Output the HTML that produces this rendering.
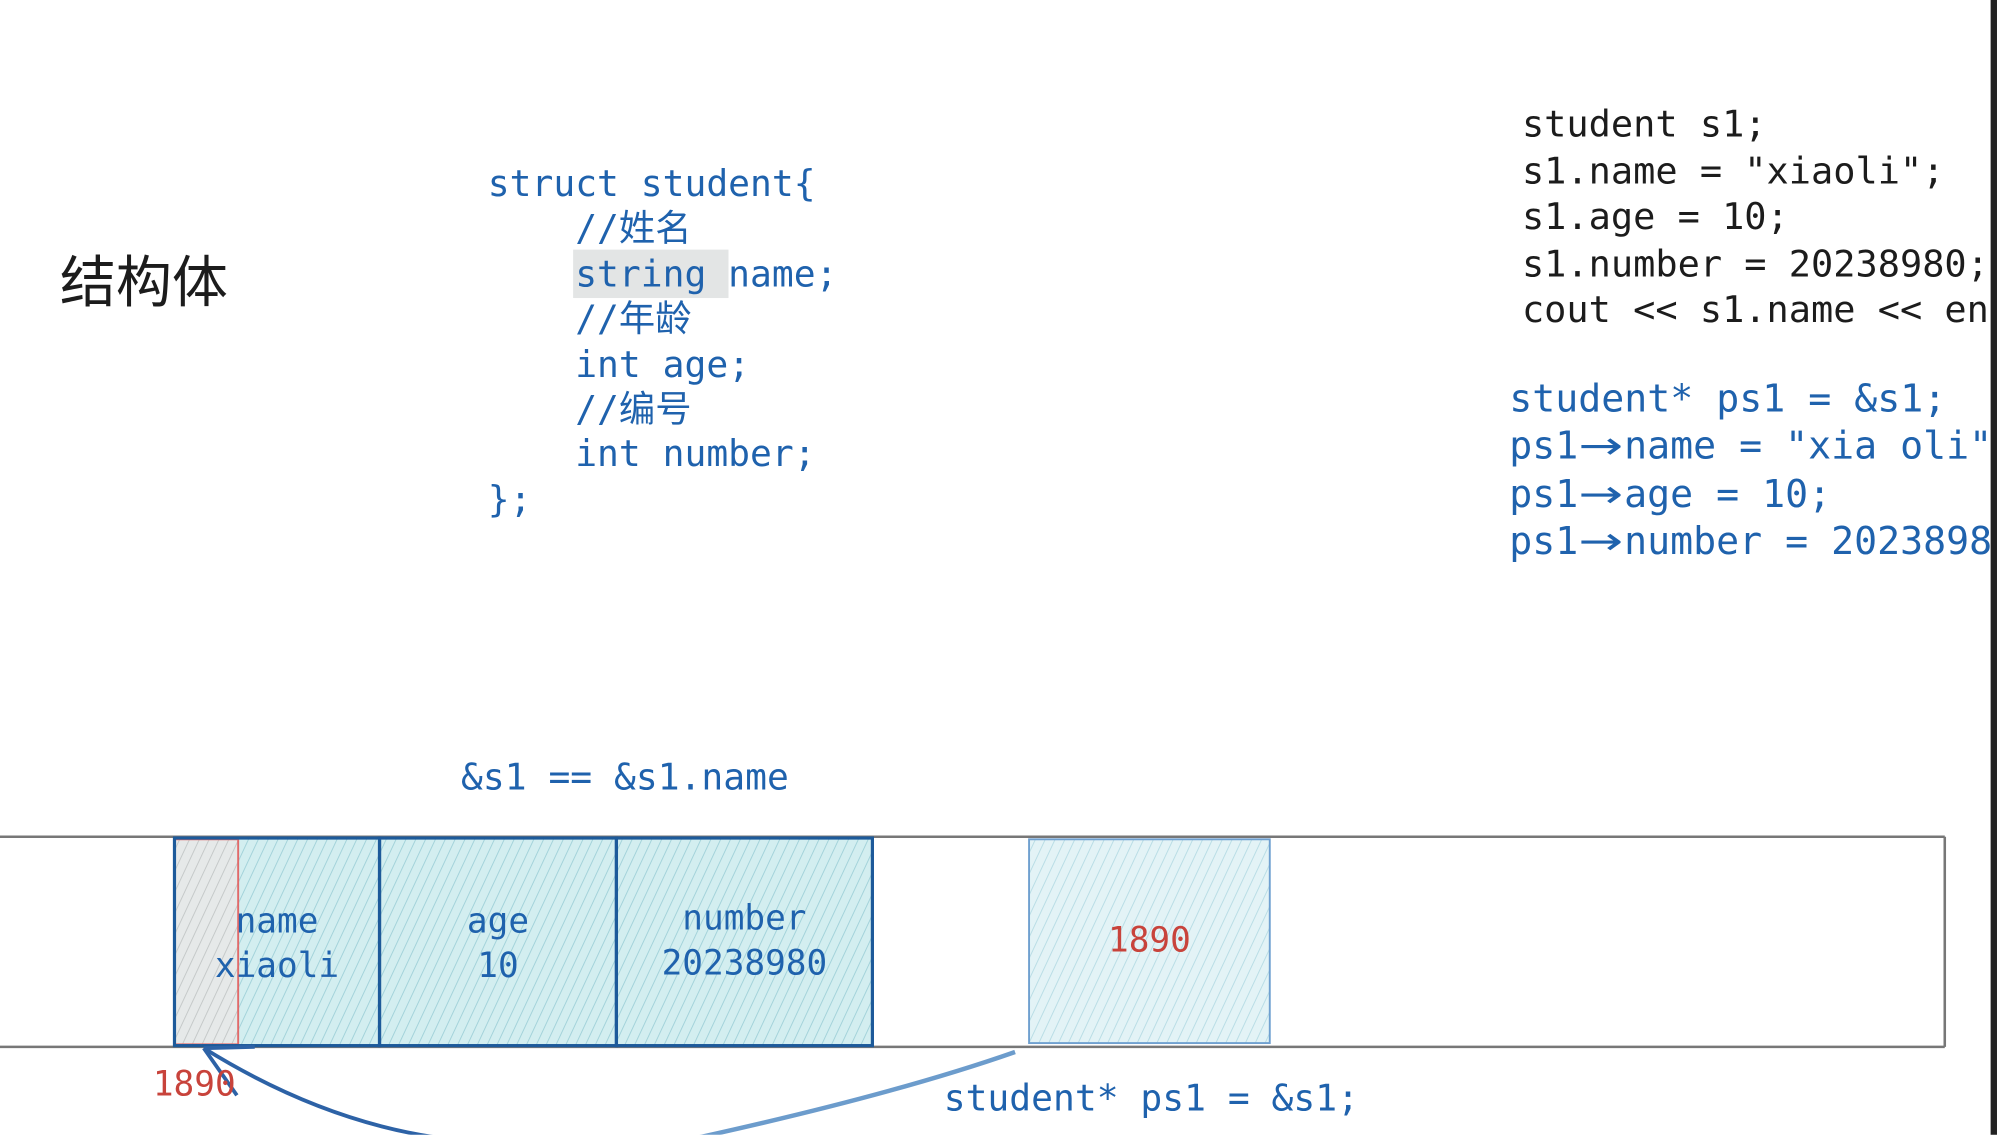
<!DOCTYPE html>
<html><head><meta charset="utf-8"><style>
html,body{margin:0;padding:0;background:#fff;width:1997px;height:1135px;overflow:hidden}
#s{position:absolute;left:0;top:0;width:1568px;height:891px;transform:scale(1.27359);transform-origin:0 0}
.t{position:absolute;white-space:pre;font-family:"DejaVu Sans Mono","Noto Sans CJK SC",monospace;line-height:36px}
.b{color:#1f62ad}.k{color:#1c1c1c}.r{color:#c8433b}
.ar{display:inline-block;width:1.2em;text-align:center;font-family:"DejaVu Sans",sans-serif;transform:scaleX(1.4)}
</style></head><body><div id="s">
<div style="position:absolute;left:1563px;top:0;width:5px;height:891px;background:#222"></div>
<div class="t k" style="left:47px;top:190px;font-family:'Noto Sans CJK SC',sans-serif;font-size:44px;line-height:56px">结构体</div>
<div style="position:absolute;left:450px;top:196px;width:122px;height:38px;background:#e3e5e5"></div>
<div class="t b" style="left:383px;top:127px;font-size:28.5px;line-height:35.4px">struct student{
    //姓名
    string name;
    //年龄
    int age;
    //编号
    int number;
};</div>
<div class="t k" style="left:1195px;top:79px;font-size:29px;line-height:36.5px">student s1;
s1.name = "xiaoli";
s1.age = 10;
s1.number = 20238980;
cout &lt;&lt; s1.name &lt;&lt; en</div>
<div class="t b" style="left:1185px;top:295px;font-size:30px;line-height:37.3px">student* ps1 = &amp;s1;
ps1<span class="ar">→</span>name = "xia oli"
ps1<span class="ar">→</span>age = 10;
ps1<span class="ar">→</span>number = 2023898</div>
<div class="t b" style="left:362px;top:593px;font-size:28.5px">&amp;s1 == &amp;s1.name</div>
<svg style="position:absolute;left:0;top:0" width="1568" height="891">
<defs>
<pattern id="h" width="7" height="7" patternUnits="userSpaceOnUse" patternTransform="rotate(25)">
<rect width="7" height="7" fill="#d3eef0"/><line x1="0" y1="0" x2="0" y2="7" stroke="#9fd0d8" stroke-width="1.4"/></pattern>
<pattern id="g" width="7" height="7" patternUnits="userSpaceOnUse" patternTransform="rotate(25)">
<rect width="7" height="7" fill="#e6e9e9"/><line x1="0" y1="0" x2="0" y2="7" stroke="#c2c6c6" stroke-width="1.4"/></pattern>
<pattern id="l" width="7" height="7" patternUnits="userSpaceOnUse" patternTransform="rotate(25)">
<rect width="7" height="7" fill="#e3f3f6"/><line x1="0" y1="0" x2="0" y2="7" stroke="#b5dbe4" stroke-width="1.4"/></pattern>
</defs>
<line x1="0" y1="657" x2="1527" y2="657" stroke="#777" stroke-width="2"/>
<line x1="0" y1="822" x2="1527" y2="822" stroke="#777" stroke-width="2"/>
<line x1="1527" y1="657" x2="1527" y2="822" stroke="#777" stroke-width="2"/>
<rect x="137" y="658" width="548" height="163" fill="url(#h)"/>
<rect x="137" y="659" width="50" height="161" fill="url(#g)" stroke="#e06a6a" stroke-width="1.5"/>
<rect x="137" y="658" width="161" height="163" fill="none" stroke="#1d5a9a" stroke-width="2.5"/>
<rect x="298" y="658" width="186" height="163" fill="none" stroke="#1d5a9a" stroke-width="2.5"/>
<rect x="484" y="658" width="201" height="163" fill="none" stroke="#1d5a9a" stroke-width="2.5"/>
<rect x="808" y="659" width="189" height="160" fill="url(#l)" stroke="#6fa0d0" stroke-width="1.5"/>
<path d="M160 823 Q300 910 440 895" fill="none" stroke="#2d62a6" stroke-width="3"/>
<path d="M540 895 Q700 860 797 826" fill="none" stroke="#6c9ccc" stroke-width="3.5"/>
<path d="M160 823 L186 860 M160 823 L200 822" fill="none" stroke="#2d62a6" stroke-width="3"/>
</svg>
<div class="t b" style="left:137px;top:706px;width:161px;text-align:center;font-size:27px;line-height:35px">name
xiaoli</div>
<div class="t b" style="left:298px;top:706px;width:186px;text-align:center;font-size:27px;line-height:35px">age
10</div>
<div class="t b" style="left:484px;top:704px;width:201px;text-align:center;font-size:27px;line-height:35px">number
20238980</div>
<div class="t r" style="left:808px;top:721px;width:189px;text-align:center;font-size:27px">1890</div>
<div class="t r" style="left:120px;top:834px;font-size:27px">1890</div>
<div class="t b" style="left:741px;top:845px;font-size:28.5px">student* ps1 = &amp;s1;</div>
</div></body></html>
